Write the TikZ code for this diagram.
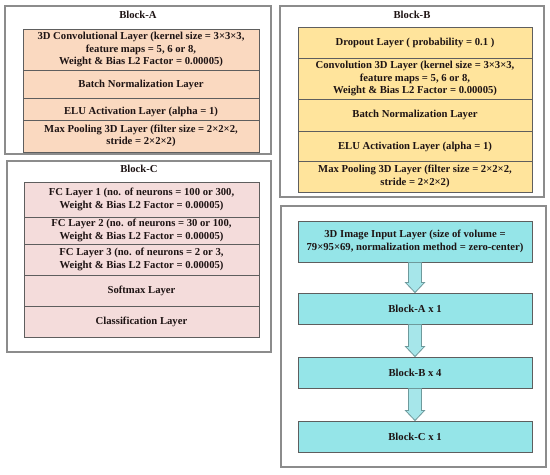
\documentclass[tikz,border=0pt]{standalone}
\usepackage{fontspec}
\setmainfont{Liberation Serif}
\usetikzlibrary{calc}
\definecolor{peachA}{HTML}{FAD9C0}
\definecolor{goldB}{HTML}{FFE49C}
\definecolor{pinkC}{HTML}{F4DCDB}
\definecolor{cyanD}{HTML}{95E5E8}
\definecolor{cyanArrow}{HTML}{A6E6EA}
\definecolor{frameGray}{HTML}{8C8C8C}
\definecolor{rowLine}{HTML}{5E5E5E}
\definecolor{arrowLine}{HTML}{6E9A9C}
\definecolor{inkDark}{HTML}{1E1414}
\tikzset{
  panel/.style={draw=frameGray, line width=0.8pt, fill=white},
  title/.style={font=\bfseries\fontsize{8}{9}\selectfont, text=inkDark},
  lay/.style={font=\bfseries\fontsize{8}{9.4}\selectfont, align=center, inner sep=0pt, text=inkDark},
  rowA/.style={draw=rowLine, fill=peachA, line width=0.6pt},
  rowB/.style={draw=rowLine, fill=goldB, line width=0.6pt},
  rowC/.style={draw=rowLine, fill=pinkC, line width=0.6pt},
  stage/.style={draw=rowLine, fill=cyanD, line width=0.7pt, minimum width=175.5pt,
    font=\bfseries\fontsize{8}{9.4}\selectfont, align=center, text=inkDark},
  flowarrow/.style={draw=arrowLine, fill=cyanArrow, line width=0.6pt, line join=miter}
}
\begin{document}
\begin{tikzpicture}[x=0.75pt,y=-0.75pt]
\useasboundingbox (0,0) rectangle (550,475);
% Block-A
\draw[panel] (5,6) rectangle (271,154);
\node[title] (tA) at (138,15) {Block-A};
\draw[rowA] (23,29) rectangle (259,70);
\node[lay] (a1) at (141,49.5) {3D Convolutional Layer (kernel size = 3×3×3,\\feature maps = 5, 6 or 8,\\Weight \& Bias L2 Factor = 0.00005)};
\draw[rowA] (23,70) rectangle (259,98);
\node[lay] (a2) at (141,85) {Batch Normalization Layer};
\draw[rowA] (23,98) rectangle (259,120);
\node[lay] (a3) at (141,112) {ELU Activation Layer (alpha = 1)};
\draw[rowA] (23,120) rectangle (259,152);
\node[lay] (a4) at (141,136) {Max Pooling 3D Layer (filter size = 2×2×2,\\stride = 2×2×2)};
% Block-B
\draw[panel] (280,6) rectangle (544,197);
\node[title] (tB) at (412,15) {Block-B};
\draw[rowB] (298,27) rectangle (532,58);
\node[lay] (b1) at (415,43) {Dropout Layer ( probability = 0.1 )};
\draw[rowB] (298,58) rectangle (532,99);
\node[lay] (b2) at (415,78.5) {Convolution 3D Layer (kernel size = 3×3×3,\\feature maps = 5, 6 or 8,\\Weight \& Bias L2 Factor = 0.00005)};
\draw[rowB] (298,99) rectangle (532,131);
\node[lay] (b3) at (415,115) {Batch Normalization Layer};
\draw[rowB] (298,131) rectangle (532,161);
\node[lay] (b4) at (415,146.5) {ELU Activation Layer (alpha = 1)};
\draw[rowB] (298,161) rectangle (532,192);
\node[lay] (b5) at (415,176.5) {Max Pooling 3D Layer (filter size = 2×2×2,\\stride = 2×2×2)};
% Block-C
\draw[panel] (7,161) rectangle (271,352);
\node[title] (tC) at (139,169) {Block-C};
\draw[rowC] (24,182) rectangle (259,217);
\node[lay] (c1) at (141.5,199.5) {FC Layer 1 (no. of neurons = 100 or 300,\\Weight \& Bias L2 Factor = 0.00005)};
\draw[rowC] (24,217) rectangle (259,244);
\node[lay] (c2) at (141.5,230.5) {FC Layer 2 (no. of neurons = 30 or 100,\\Weight \& Bias L2 Factor = 0.00005)};
\draw[rowC] (24,244) rectangle (259,275);
\node[lay] (c3) at (141.5,259.5) {FC Layer 3 (no. of neurons = 2 or 3,\\Weight \& Bias L2 Factor = 0.00005)};
\draw[rowC] (24,275) rectangle (259,306);
\node[lay] (c4) at (141.5,291) {Softmax Layer};
\draw[rowC] (24,306) rectangle (259,337);
\node[lay] (c5) at (141.5,322) {Classification Layer};
% network
\draw[panel] (281,206) rectangle (546,467);
\node[stage, minimum height=30.75pt] (inp) at (415,241.5) {3D Image Input Layer (size of volume =\\79×95×69, normalization method = zero-center)};
\node[stage, minimum height=23.25pt] (da) at (415,308.5) {Block-A x 1};
\node[stage, minimum height=23.25pt] (db) at (415,372.5) {Block-B x 4};
\node[stage, minimum height=23.25pt] (dc) at (415,436.5) {Block-C x 1};
\foreach \u/\v in {inp/da, da/db, db/dc}
  \draw[flowarrow] ($(\u.south)+(-6.5,0)$) -- ($(\v.north)+(-6.5,-10)$) -- ($(\v.north)+(-9.5,-10)$)
    -- (\v.north) -- ($(\v.north)+(9.5,-10)$) -- ($(\v.north)+(6.5,-10)$) -- ($(\u.south)+(6.5,0)$) -- cycle;
\end{tikzpicture}
\end{document}
